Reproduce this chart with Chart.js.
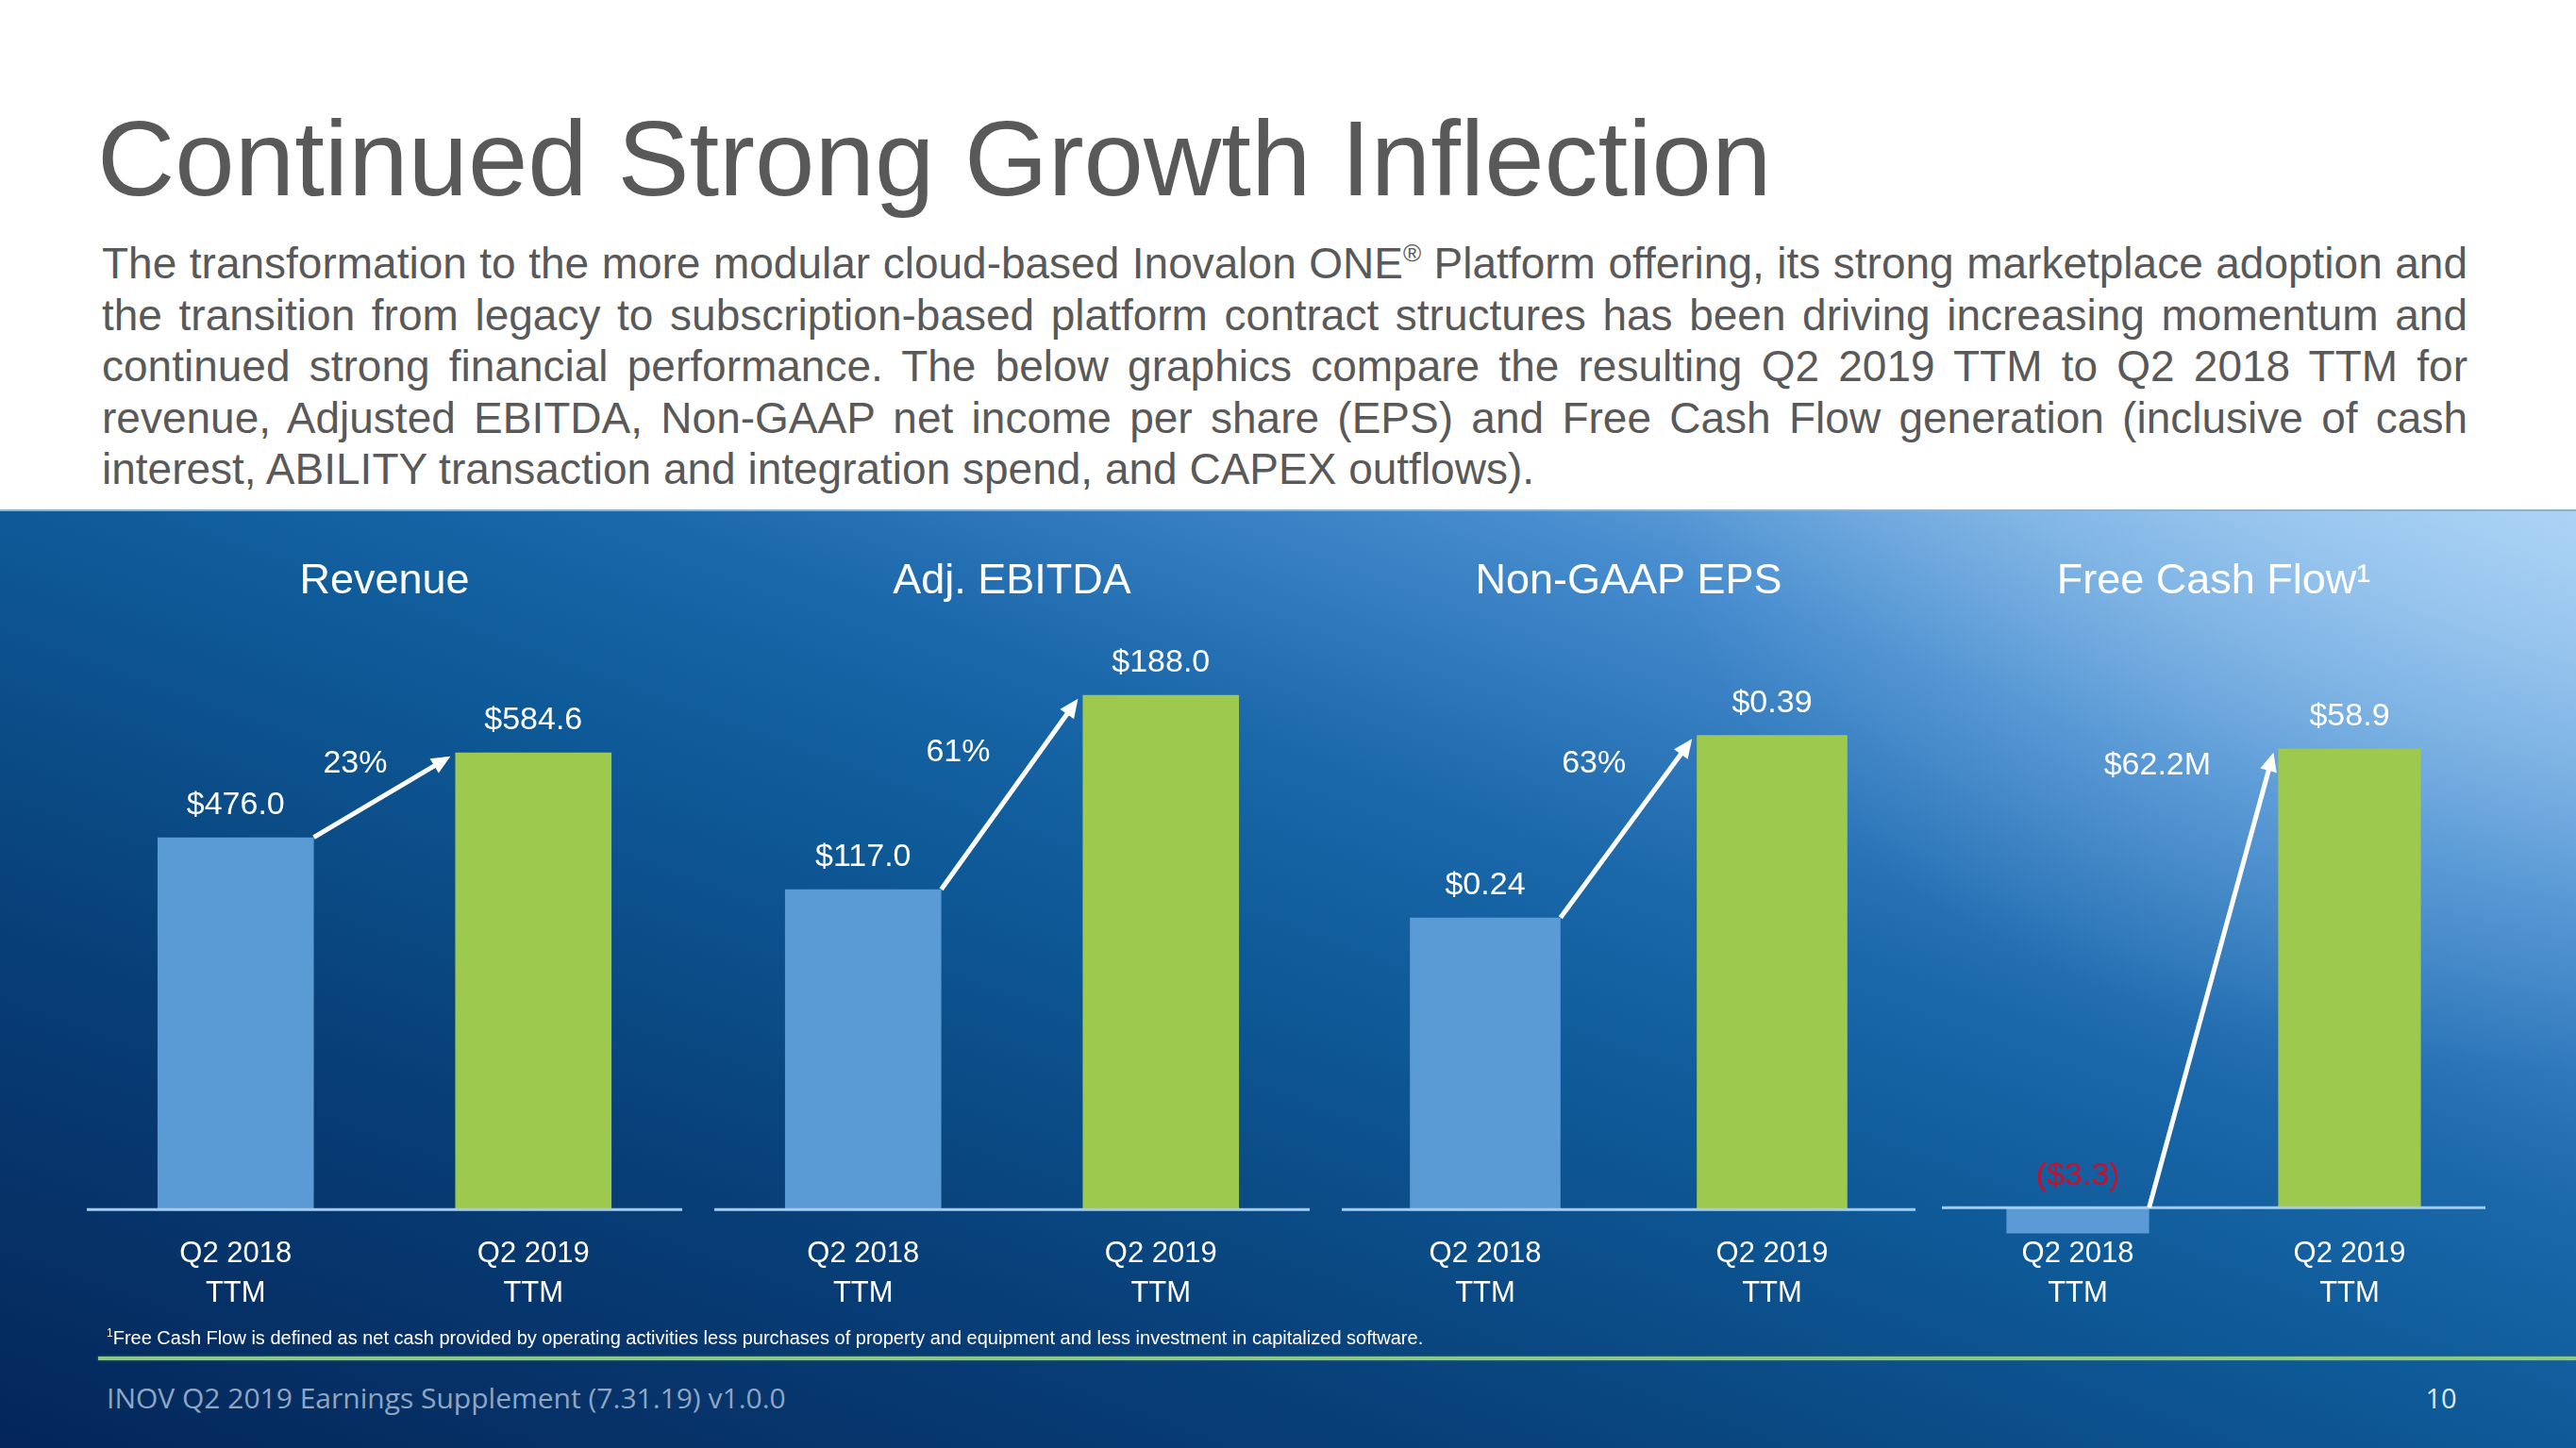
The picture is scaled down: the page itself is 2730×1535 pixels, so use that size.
<!DOCTYPE html>
<html>
<head>
<meta charset="utf-8">
<script src="https://cdn.jsdelivr.net/npm/chart.js@4.4.1/dist/chart.umd.min.js"></script>
<style>
	html, body { margin: 0; padding: 0; }
	body {
		width: 2730px;
		height: 1535px;
		position: relative;
		overflow: hidden;
		background: #fff;
		font-family: "Liberation Sans", Arial, sans-serif;
	}
	.title {
		position: absolute;
		left: 103px;
		top: 111px;
		font-size: 114px;
		line-height: 114px;
		color: #595959;
		white-space: nowrap;
	}
	.intro {
		position: absolute;
		left: 108px;
		top: 252px;
		width: 2507px;
		font-size: 46px;
		line-height: 54.5px;
		color: #595959;
	}
	.intro div { white-space: nowrap; text-align: justify; text-align-last: justify; }
	.intro div.last { text-align-last: left; }
	.intro sup { font-size: 26px; line-height: 0; vertical-align: 18px; }
	.panel {
		position: absolute;
		left: 0;
		top: 540px;
		width: 2730px;
		height: 995px;
		border-top: 2px solid #8fb2c6;
		box-sizing: border-box;
		background:
			radial-gradient(ellipse 35% 60% at 100% 0%, rgba(176, 214, 248, 0.55) 0%, rgba(176, 214, 248, 0) 100%),
			linear-gradient(to top right, #04265a 0%, #083f78 28%, #0e5a98 50%, #1a67aa 62%, #468cce 79%, #a6d0f3 100%);
	}
	canvas { position: absolute; }
	.footnote {
		position: absolute;
		left: 113px;
		top: 1403px;
		font-size: 20px;
		line-height: 20px;
		color: #fff;
		white-space: nowrap;
	}
	.rule {
		position: absolute;
		left: 104px;
		right: 0;
		top: 1438px;
		height: 4px;
		background: #8cc889;
		box-shadow: 0 0 3px #3f7f4a;
	}
	.footer {
		position: absolute;
		left: 113px;
		top: 1462px;
		font-family: "Open Sans", sans-serif;
		font-size: 30px;
		line-height: 40px;
		color: #8ea6c2;
		white-space: nowrap;
	}
	.pagenum {
		position: absolute;
		left: 2560px;
		width: 54px;
		text-align: center;
		top: 1462px;
		font-family: "Open Sans", sans-serif;
		font-size: 29px;
		line-height: 40px;
		color: #dfe9f5;
	}
</style>
</head>
<body>
<div class="title">Continued Strong Growth Inflection</div>
<div class="intro">
	<div>The transformation to the more modular cloud-based Inovalon ONE<sup>®</sup> Platform offering, its strong marketplace adoption and</div>
	<div>the transition from legacy to subscription-based platform contract structures has been driving increasing momentum and</div>
	<div>continued strong financial performance. The below graphics compare the resulting Q2 2019 TTM to Q2 2018 TTM for</div>
	<div>revenue, Adjusted EBITDA, Non-GAAP net income per share (EPS) and Free Cash Flow generation (inclusive of cash</div>
	<div class="last">interest, ABILITY transaction and integration spend, and CAPEX outflows).</div>
</div>
<div class="panel"></div>
<canvas id="chartRevenue" width="631" height="858" style="left:92px;top:560px;width:631px;height:858px"></canvas>
<canvas id="chartEbitda" width="631" height="858" style="left:757px;top:560px;width:631px;height:858px"></canvas>
<canvas id="chartEps" width="608" height="858" style="left:1422px;top:560px;width:608px;height:858px"></canvas>
<canvas id="chartFcf" width="576" height="832" style="left:2058px;top:560px;width:576px;height:832px"></canvas>
<div class="footnote"><sup style="font-size:12px">1</sup>Free Cash Flow is defined as net cash provided by operating activities less purchases of property and equipment and less investment in capitalized software.</div>
<div class="rule"></div>
<div class="footer">INOV Q2 2019 Earnings Supplement (7.31.19) v1.0.0</div>
<div class="pagenum">10</div>

<script>
'use strict'

// data
const categories = [['Q2 2018', 'TTM'], ['Q2 2019', 'TTM']];
const panelTitles = ['Revenue', 'Adj. EBITDA', 'Non-GAAP EPS', 'Free Cash Flow¹'];
const revenue = [476.0, 584.6];
const adjEbitda = [117.0, 188.0];
const nonGaapEps = [0.24, 0.39];
const freeCashFlow = [-3.3, 58.9];
const changeLabels = ['23%', '61%', '63%', '$62.2M'];

const fontFamily = '"Liberation Sans", Arial, sans-serif';
const colors = {
	blue: '#5b9bd5',
	green: '#9dc94f',
	axis: '#a9cbea',
	text: '#ffffff',
	negative: '#c8102e',
};

const money = function(digits) {
	return function(v) {
		const s = '$' + Math.abs(v).toFixed(digits);
		return v < 0 ? '(' + s + ')' : s;
	};
};

// value labels, zero line and the growth arrow
const annotate = {
	id: 'annotate',
	afterDatasetsDraw(chart, args, opts) {
		const ctx = chart.ctx;
		const area = chart.chartArea;
		const meta = chart.getDatasetMeta(0);
		const values = chart.data.datasets[0].data;
		const zero = chart.scales.y.getPixelForValue(0);

		ctx.save();
		ctx.strokeStyle = colors.axis;
		ctx.lineWidth = 3;
		ctx.beginPath();
		ctx.moveTo(area.left, zero);
		ctx.lineTo(area.right, zero);
		ctx.stroke();

		ctx.font = '34px ' + fontFamily;
		ctx.textAlign = 'center';
		ctx.textBaseline = 'middle';
		meta.data.forEach(function(bar, i) {
			ctx.fillStyle = values[i] < 0 ? colors.negative : colors.text;
			ctx.fillText(opts.format(values[i]), bar.x, Math.min(bar.y, zero) - 34);
		});

		const a = meta.data[0];
		const b = meta.data[1];
		const x0 = a.x + a.width / 2;
		const y0 = Math.min(a.y, zero);
		const x1 = b.x - b.width / 2 - 5;
		const y1 = b.y + 4;
		const ang = Math.atan2(y1 - y0, x1 - x0);
		const head = 20;
		ctx.strokeStyle = '#fff';
		ctx.fillStyle = '#fff';
		ctx.lineWidth = 5;
		ctx.beginPath();
		ctx.moveTo(x0, y0);
		ctx.lineTo(x1 - Math.cos(ang) * head * 0.8, y1 - Math.sin(ang) * head * 0.8);
		ctx.stroke();
		ctx.beginPath();
		ctx.moveTo(x1, y1);
		ctx.lineTo(x1 - Math.cos(ang) * head + Math.sin(ang) * 9, y1 - Math.sin(ang) * head - Math.cos(ang) * 9);
		ctx.lineTo(x1 - Math.cos(ang) * head - Math.sin(ang) * 9, y1 - Math.sin(ang) * head + Math.cos(ang) * 9);
		ctx.closePath();
		ctx.fill();

		ctx.fillStyle = colors.text;
		ctx.fillText(opts.change, x1 + opts.changeOffset[0], y1 + opts.changeOffset[1]);
		ctx.restore();
	},
};

const panels = [
	{ canvas: 'chartRevenue', title: panelTitles[0], values: revenue, change: changeLabels[0], min: 0, max: 700, format: money(1), changeOffset: [-101, 8], padding: 26 },
	{ canvas: 'chartEbitda', title: panelTitles[1], values: adjEbitda, change: changeLabels[1], min: 0, max: 200, format: money(1), changeOffset: [-127, 57], padding: 26 },
	{ canvas: 'chartEps', title: panelTitles[2], values: nonGaapEps, change: changeLabels[2], min: 0, max: 0.45, format: money(2), changeOffset: [-104, 26], padding: 26 },
	{ canvas: 'chartFcf', title: panelTitles[3], values: freeCashFlow, change: changeLabels[3], min: -3.4, max: 70, format: money(1), changeOffset: [-123, 14], padding: 0 },
];

panels.forEach(function(p) {
	new Chart(document.getElementById(p.canvas), {
		type: 'bar',
		data: {
			labels: categories,
			datasets: [{
				data: p.values,
				backgroundColor: [colors.blue, colors.green],
				barPercentage: 0.525,
				categoryPercentage: 1,
			}],
		},
		options: {
			responsive: false,
			animation: false,
			devicePixelRatio: 1,
			layout: { padding: 0 },
			plugins: {
				legend: { display: false },
				tooltip: { enabled: false },
				title: {
					display: true,
					text: p.title,
					color: colors.text,
					font: { size: 45, family: fontFamily, weight: 'normal', lineHeight: 1.2 },
					padding: { top: 30, bottom: 58 },
				},
				annotate: { format: p.format, change: p.change, changeOffset: p.changeOffset },
			},
			scales: {
				x: {
					grid: { display: false, drawTicks: false },
					border: { display: false },
					ticks: {
						color: colors.text,
						font: { size: 31, family: fontFamily, lineHeight: 1.35 },
						padding: p.padding,
					},
				},
				y: {
					display: false,
					min: p.min,
					max: p.max,
				},
			},
		},
		plugins: [annotate],
	});
});
</script>
</body>
</html>
